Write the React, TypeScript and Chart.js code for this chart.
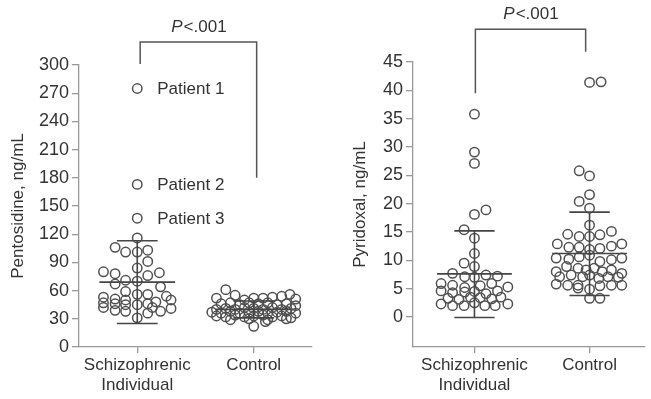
import React, { useEffect, useRef } from "react";
import { Chart, registerables } from "chart.js";

Chart.register(...registerables);

// ---------- data ----------
const categories: (string | string[])[] = [["Schizophrenic", "Individual"], "Control"];

// [offset within group (category units), value]
const pentosidineSchizo: [number, number][] = [
  [0, 275], [0, 173], [0, 137],
  [0, 116], [-0.19, 106], [-0.1, 101], [0, 101], [0.09, 103], [0.09, 91], [0, 84],
  [-0.29, 80], [-0.19, 78], [0.19, 79], [0.09, 76], [-0.1, 71], [0, 70], [-0.19, 67],
  [0.2, 64], [-0.1, 59], [0, 56], [0.09, 56], [0.25, 54], [-0.29, 53], [-0.29, 47],
  [-0.29, 42], [-0.19, 51], [-0.19, 46], [-0.19, 39], [-0.1, 50], [-0.1, 45], [-0.1, 38],
  [0, 45], [0.09, 46], [0.16, 48], [0.29, 50], [0.29, 41], [0.2, 38], [0.09, 36],
  [0, 31], [0.13, 42],
];
const pentosidineControl: [number, number][] = [
  [-0.24, 61], [-0.32, 52], [-0.16, 55], [-0.08, 50], [0, 52], [0.08, 52], [0.16, 53],
  [0.24, 54], [0.31, 56], [0.36, 51],
  [-0.28, 46], [-0.2, 47], [-0.12, 45], [-0.04, 47], [0.04, 46], [0.12, 47], [0.2, 45],
  [0.28, 46], [0.36, 44],
  [-0.32, 40], [-0.24, 41], [-0.16, 40], [-0.08, 42], [0, 41], [0.08, 40], [0.16, 42],
  [0.24, 40], [0.32, 41],
  [-0.36, 37], [-0.28, 36], [-0.2, 38], [-0.12, 36], [-0.04, 37], [0.04, 38], [0.12, 36],
  [0.2, 37], [0.28, 38], [0.36, 36],
  [-0.32, 33], [-0.24, 32], [-0.16, 34], [-0.08, 32], [0, 33], [0.08, 34], [0.16, 32],
  [0.24, 33], [0.32, 31],
  [-0.2, 29], [-0.04, 30], [0.12, 29], [0.28, 30],
  [0, 22], [0.1, 27],
];
const pyridoxalSchizo: [number, number][] = [
  [0, 35.8], [0, 29.1], [0, 27.1], [0, 18.1], [0.1, 18.9], [-0.09, 15.4], [0, 13.9],
  [0, 11.2], [-0.09, 9.5], [0, 8.9],
  [-0.19, 7.7], [-0.085, 7.1], [0, 7.0], [0.1, 7.4], [0.2, 7.2],
  [-0.29, 5.9], [-0.19, 5.6], [-0.085, 5.2], [0.05, 5.5], [0.15, 5.9], [0.29, 5.3],
  [-0.29, 4.6], [-0.19, 4.3], [-0.085, 4.4], [0, 4.5], [0.1, 4.1], [0.2, 4.6],
  [-0.23, 3.3], [-0.135, 3.1], [-0.035, 3.5], [0.05, 3.4], [0.15, 3.2], [0.23, 3.5],
  [-0.29, 2.3], [-0.19, 2.0], [-0.09, 2.0], [0, 2.5], [0.09, 2.0], [0.18, 2.0], [0.29, 2.3],
];
const pyridoxalControl: [number, number][] = [
  [0, 41.4], [0.1, 41.5], [-0.09, 25.8], [0, 24.9], [0, 21.6], [-0.09, 20.4], [0, 19.2],
  [0, 16.2],
  [-0.19, 14.6], [-0.09, 14.2], [0, 14.2], [0.09, 14.5], [0.19, 15.1],
  [-0.28, 12.9], [-0.18, 12.3], [-0.09, 12.3], [0, 11.9], [0.09, 12.1], [0.19, 12.5], [0.28, 12.9],
  [-0.29, 10.4], [-0.18, 10.2], [-0.09, 10.6], [0, 10.9], [0.09, 9.8], [0.19, 10.1], [0.28, 10.4],
  [-0.29, 8.0], [-0.2, 8.9], [-0.1, 8.6], [-0.03, 8.3], [0.04, 8.6], [0.11, 8.0], [0.19, 8.3], [0.28, 7.7],
  [-0.26, 7.1], [-0.16, 7.4], [-0.06, 7.1], [0, 7.4], [0.08, 6.8], [0.16, 7.1], [0.25, 7.0],
  [-0.29, 5.8], [-0.19, 5.6], [-0.1, 5.6], [0.09, 5.5], [0.19, 5.6], [0.28, 5.6],
  [-0.1, 5.1], [0, 4.9],
  [0, 3.3], [0.09, 3.3],
];

// mean, mean+SD, mean-SD per group
const pentosidineStats = [
  { mean: 69, upper: 113, lower: 25 },
  { mean: 40, upper: 49, lower: 31 },
];
const pyridoxalStats = [
  { mean: 7.6, upper: 15.2, lower: -0.1 },
  { mean: 11.2, upper: 18.5, lower: 3.8 },
];

const pentosidineTicks = [0, 30, 60, 90, 120, 150, 180, 210, 240, 270, 300];
const pyridoxalTicks = [0, 5, 10, 15, 20, 25, 30, 35, 40, 45];

const patientLabels = [
  { value: 275, text: "Patient 1" },
  { value: 173, text: "Patient 2" },
  { value: 137, text: "Patient 3" },
];

// bracket: [x1, x2], top value, left-leg bottom, right-leg bottom
const pentosidineBracket = { x: [1.025, 2.025], top: 324.5, leftEnd: 301, rightEnd: 180 };
const pyridoxalBracket = { x: [1.008, 1.966], top: 50.8, leftEnd: 39.5, rightEnd: 46.8 };

// ---------- style ----------
const FONT = "'Liberation Sans', Arial, sans-serif";
const TEXT = "#333333";
const AXIS = "#999999";
const MARK = "#505050";
const BAR = "#454545";

const extrasPlugin = {
  id: "extras",
  afterDatasetsDraw(chart: any, _args: any, opts: any) {
    const { ctx } = chart;
    const xs = chart.scales.x;
    const ys = chart.scales.y;
    ctx.save();
    // error bars
    ctx.strokeStyle = BAR;
    ctx.lineWidth = 1.6;
    (opts.stats || []).forEach((s: any, i: number) => {
      const cx = i + 1;
      const seg = (x1: number, y1: number, x2: number, y2: number) => {
        ctx.beginPath();
        ctx.moveTo(xs.getPixelForValue(x1), ys.getPixelForValue(y1));
        ctx.lineTo(xs.getPixelForValue(x2), ys.getPixelForValue(y2));
        ctx.stroke();
      };
      seg(cx, s.lower, cx, s.upper);
      seg(cx - 0.325, s.mean, cx + 0.325, s.mean);
      seg(cx - 0.175, s.upper, cx + 0.175, s.upper);
      seg(cx - 0.175, s.lower, cx + 0.175, s.lower);
    });
    // bracket
    const b = opts.bracket;
    if (b) {
      ctx.strokeStyle = "#555";
      ctx.lineWidth = 1.5;
      const x1 = xs.getPixelForValue(b.x[0]);
      const x2 = xs.getPixelForValue(b.x[1]);
      const yt = ys.getPixelForValue(b.top);
      ctx.beginPath();
      ctx.moveTo(x1, ys.getPixelForValue(b.leftEnd));
      ctx.lineTo(x1, yt);
      ctx.lineTo(x2, yt);
      ctx.lineTo(x2, ys.getPixelForValue(b.rightEnd));
      ctx.stroke();
      // P<.001
      const fs = 17;
      ctx.fillStyle = TEXT;
      ctx.textBaseline = "alphabetic";
      ctx.font = `italic ${fs}px ${FONT}`;
      const wP = ctx.measureText("P").width;
      ctx.font = `${fs}px ${FONT}`;
      const wR = ctx.measureText("<.001").width;
      const mid = (x1 + x2) / 2;
      const start = mid - (wP + wR) / 2;
      const by = yt - 10;
      ctx.font = `italic ${fs}px ${FONT}`;
      ctx.textAlign = "left";
      ctx.fillText("P", start, by);
      ctx.font = `${fs}px ${FONT}`;
      ctx.fillText("<.001", start + wP + 1, by);
    }
    // patient labels
    (opts.labels || []).forEach((l: any) => {
      ctx.fillStyle = TEXT;
      ctx.font = `17px ${FONT}`;
      ctx.textAlign = "left";
      ctx.textBaseline = "middle";
      ctx.fillText(l.text, xs.getPixelForValue(1) + 20, ys.getPixelForValue(l.value) + 1);
    });
    ctx.restore();
  },
};

function makeConfig(p: any): any {
  const pts = (arr: [number, number][], c: number) => arr.map(([dx, v]) => ({ x: c + dx, y: v }));
  const pointStyle = {
    pointRadius: 4.7,
    pointBorderWidth: 1.5,
    pointBorderColor: MARK,
    pointBackgroundColor: "rgba(0,0,0,0)",
    showLine: false,
  };
  return {
    type: "scatter",
    data: {
      datasets: [
        { data: pts(p.groups[0], 1), ...pointStyle },
        { data: pts(p.groups[1], 2), ...pointStyle },
      ],
    },
    options: {
      animation: false,
      responsive: false,
      maintainAspectRatio: false,
      events: [],
      layout: { padding: p.padding },
      plugins: {
        legend: { display: false },
        tooltip: { enabled: false },
        extras: { stats: p.stats, bracket: p.bracket, labels: p.labels },
      },
      scales: {
        x: {
          type: "linear",
          min: p.xMin,
          max: p.xMax,
          afterBuildTicks: (s: any) => {
            s.ticks = [{ value: 1 }, { value: 2 }];
          },
          afterFit: (s: any) => {
            s.height = 52;
          },
          ticks: {
            callback: (v: number) => (v === 1 ? categories[0] : categories[1]),
            font: { family: FONT, size: 17, lineHeight: 1.2 },
            color: TEXT,
            padding: 2,
            autoSkip: false,
            maxRotation: 0,
          },
          grid: { display: true, drawOnChartArea: false, drawTicks: true, tickLength: 6, color: AXIS, lineWidth: 1.3 },
          border: { display: true, color: AXIS, width: 1.3 },
        },
        y: {
          type: "linear",
          min: p.yMin,
          max: p.yMax,
          afterBuildTicks: (s: any) => {
            s.ticks = p.yTicks.map((v: number) => ({ value: v }));
          },
          afterFit: (s: any) => {
            s.width = p.yWidth;
          },
          ticks: {
            font: { family: FONT, size: 18 },
            color: TEXT,
            padding: 3,
          },
          grid: { display: true, drawOnChartArea: false, drawTicks: true, tickLength: 7, color: AXIS, lineWidth: 1.3 },
          border: { display: true, color: AXIS, width: 1.3 },
          title: {
            display: true,
            text: p.yTitle,
            font: { family: FONT, size: 17 },
            color: TEXT,
            padding: { top: p.titlePad, bottom: 0 },
          },
        },
      },
    },
    plugins: [extrasPlugin],
  };
}

export default function App() {
  const leftRef = useRef<HTMLCanvasElement>(null);
  const rightRef = useRef<HTMLCanvasElement>(null);

  useEffect(() => {
    const c1 = new Chart(
      leftRef.current!,
      makeConfig({
        groups: [pentosidineSchizo, pentosidineControl],
        stats: pentosidineStats,
        bracket: pentosidineBracket,
        labels: patientLabels,
        yTicks: pentosidineTicks,
        yMin: 0,
        yMax: 300,
        xMin: 0.5,
        xMax: 2.5,
        yTitle: "Pentosidine, ng/mL",
        yWidth: 79,
        titlePad: 8,
        padding: { top: 65, right: 18, bottom: 0, left: 0 },
      })
    );
    const c2 = new Chart(
      rightRef.current!,
      makeConfig({
        groups: [pyridoxalSchizo, pyridoxalControl],
        stats: pyridoxalStats,
        bracket: pyridoxalBracket,
        labels: [],
        yTicks: pyridoxalTicks,
        yMin: -5.3,
        yMax: 45,
        xMin: 0.466,
        xMax: 2.48,
        yTitle: "Pyridoxal, ng/mL",
        yWidth: 83,
        titlePad: 20,
        padding: { top: 62, right: 0, bottom: 0, left: 0 },
      })
    );
    return () => {
      c1.destroy();
      c2.destroy();
    };
  }, []);

  return (
    <div style={{ position: "fixed", left: 0, top: 0, width: 651, height: 399, background: "#fff" }}>
      <canvas ref={leftRef} width={330} height={399} style={{ position: "absolute", left: 0, top: 0, width: 330, height: 399 }} />
      <canvas ref={rightRef} width={321} height={399} style={{ position: "absolute", left: 330, top: 0, width: 321, height: 399 }} />
    </div>
  );
}
